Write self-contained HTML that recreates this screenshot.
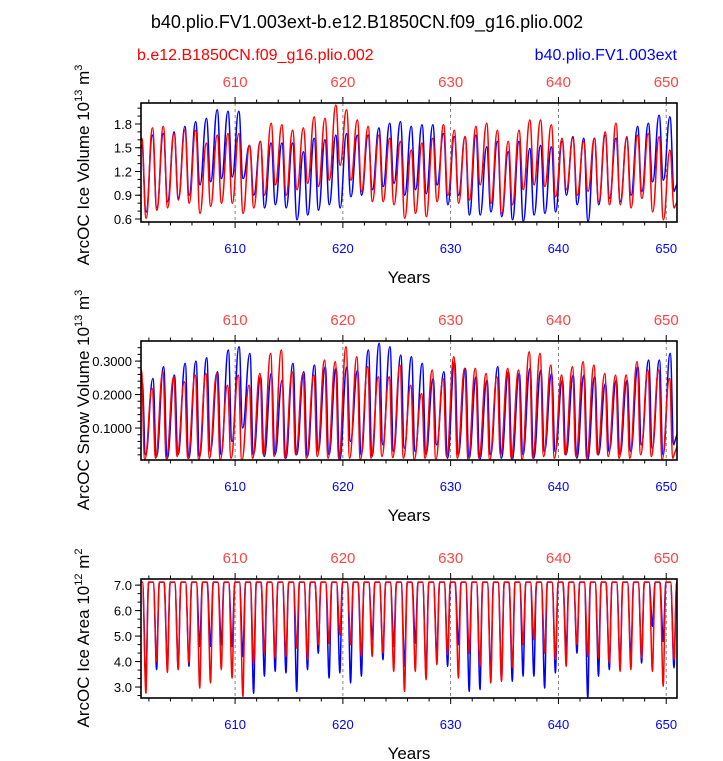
<!DOCTYPE html>
<html><head><meta charset="utf-8">
<style>
html,body{margin:0;padding:0;background:#fff;}
svg{display:block;font-family:"Liberation Sans",Arial,sans-serif;}
</style></head>
<body>
<svg id="chart" width="723" height="761" viewBox="0 0 723 761" xmlns="http://www.w3.org/2000/svg">
<text x="367" y="28" font-size="18" text-anchor="middle">b40.plio.FV1.003ext-b.e12.B1850CN.f09_g16.plio.002</text>
<text x="137" y="60" font-size="16" fill="#ff0000">b.e12.B1850CN.f09_g16.plio.002</text>
<text x="677" y="60" font-size="16" fill="#0000ff" text-anchor="end">b40.plio.FV1.003ext</text>
<g id="plots"></g>
</svg>
<script>
const years0 = 601;
const xTicks = [610, 620, 630, 640, 650];
// Panel 1: Ice Volume (10^13 m^3), annual peaks and troughs
const iceVolRedPeaks = [1.62,1.75,1.77,1.68,1.72,1.72,1.56,1.66,1.68,1.68,1.53,1.58,1.81,1.79,1.72,1.75,1.89,1.87,2.04,1.98,1.85,1.77,1.66,1.62,1.58,1.47,1.56,1.62,1.79,1.72,1.64,1.77,1.81,1.72,1.58,1.72,1.85,1.85,1.79,1.62,1.62,1.58,1.62,1.70,1.81,1.64,1.66,1.68,1.64,1.47];
const iceVolBluePeaks = [1.53,1.66,1.68,1.70,1.77,1.83,1.87,1.98,1.96,1.96,1.53,1.58,1.56,1.56,1.56,1.45,1.62,1.60,1.66,1.68,1.66,1.66,1.75,1.81,1.83,1.77,1.79,1.79,1.68,1.64,1.64,1.66,1.51,1.58,1.45,1.58,1.49,1.53,1.51,1.58,1.64,1.62,1.62,1.66,1.62,1.62,1.77,1.81,1.91,1.89];
const iceVolRedTroughs = [0.61,0.71,0.74,0.84,0.80,0.67,0.76,0.80,0.80,0.67,0.74,0.90,1.03,0.90,0.97,1.05,1.01,1.09,1.28,1.09,0.95,0.82,0.82,0.78,0.61,0.67,0.63,0.82,0.90,0.80,0.84,1.03,0.80,0.67,0.78,0.97,1.03,1.01,0.88,0.97,0.90,0.95,0.82,0.78,0.78,0.74,0.86,0.69,0.59,0.74];
const iceVolBlueTroughs = [0.69,0.74,0.82,0.86,0.90,1.03,1.07,1.11,1.13,1.11,0.90,0.74,0.78,0.74,0.59,0.65,0.71,0.78,0.74,0.88,0.90,0.97,1.01,1.05,0.90,0.97,0.92,1.03,0.78,0.90,0.65,0.65,0.69,0.63,0.59,0.57,0.65,0.67,0.69,0.90,0.78,0.57,0.78,0.86,0.82,0.90,0.95,1.07,1.09,0.95];
const iceVolTicks = [0.6, 0.9, 1.2, 1.5, 1.8];
const iceVolTickLabels = ["0.6","0.9","1.2","1.5","1.8"];
// Panel 2: Snow Volume
const snowRedPeaks = [0.273,0.218,0.268,0.253,0.238,0.258,0.263,0.263,0.228,0.258,0.228,0.263,0.323,0.333,0.268,0.263,0.258,0.303,0.298,0.343,0.313,0.283,0.253,0.253,0.288,0.228,0.203,0.273,0.248,0.313,0.278,0.278,0.263,0.253,0.278,0.273,0.328,0.323,0.288,0.258,0.283,0.298,0.288,0.263,0.258,0.258,0.298,0.273,0.273,0.248];
const snowBluePeaks = [0.238,0.248,0.283,0.258,0.293,0.300,0.310,0.268,0.333,0.343,0.323,0.253,0.263,0.243,0.293,0.268,0.288,0.283,0.278,0.283,0.273,0.333,0.353,0.343,0.318,0.313,0.293,0.248,0.268,0.298,0.278,0.253,0.243,0.283,0.268,0.263,0.278,0.273,0.263,0.243,0.258,0.258,0.253,0.233,0.243,0.243,0.283,0.303,0.303,0.323];
const snowRedTroughs = [0.005,0.01,0.008,0.015,0.01,0.005,0.01,0.005,0.01,0.003,0.01,0.02,0.015,0.01,0.02,0.01,0.015,0.01,0.008,0.01,0.005,0.01,0.015,0.012,0.01,0.005,0.01,0.005,0.015,0.01,0.003,0.01,0.005,0.02,0.01,0.005,0.01,0.015,0.01,0.02,0.015,0.01,0.02,0.015,0.01,0.01,0.02,0.015,0.005,0.01];
const snowBlueTroughs = [0.02,0.015,0.01,0.02,0.01,0.015,0.03,0.02,0.06,0.10,0.02,0.015,0.02,0.01,0.02,0.015,0.03,0.02,0.005,0.06,0.02,0.015,0.05,0.03,0.04,0.03,0.02,0.05,0.01,0.02,0.01,0.005,0.02,0.01,0.005,0.02,0.01,0.03,0.03,0.02,0.01,0.005,0.02,0.03,0.02,0.03,0.05,0.04,0.02,0.05];
const snowTicks = [0.1, 0.2, 0.3];
const snowTickLabels = ["0.1000","0.2000","0.3000"];
// Panel 3: Ice Area (10^12 m^2)
const areaRedPeaks = Array(50).fill(7.12);
const areaBluePeaks = Array(50).fill(7.12);
const areaRedTroughs = [2.76,4.01,3.57,3.68,3.94,2.96,3.16,3.68,3.35,2.63,3.88,4.33,4.14,4.20,4.53,4.07,4.66,4.72,5.05,4.66,4.20,4.20,4.33,3.61,2.83,3.61,3.29,3.88,4.27,3.35,4.33,3.81,3.16,3.22,3.75,4.66,4.86,4.33,4.07,3.81,4.66,4.20,4.14,3.94,3.61,3.68,4.14,3.61,3.03,4.07];
const areaBlueTroughs = [3.16,3.68,3.75,3.68,3.81,4.59,4.59,4.66,4.59,4.20,2.76,3.42,3.61,3.55,2.83,3.68,4.33,3.35,3.55,3.16,3.42,4.86,4.07,4.59,3.81,4.72,3.55,4.20,3.81,4.66,2.83,2.90,3.55,3.29,3.22,3.42,3.42,2.96,3.55,4.46,4.33,2.57,3.42,3.68,3.81,4.20,3.94,5.38,4.79,3.75];
const areaTicks = [3, 4, 5, 6, 7];
const areaTickLabels = ["3.0","4.0","5.0","6.0","7.0"];

const NS = "http://www.w3.org/2000/svg";
const X0 = 141, X1 = 677, YR0 = 601.27, YR1 = 651.0;
function xs(yr){ return X0 + (yr - YR0) / (YR1 - YR0) * (X1 - X0); }
function mk(tag, attrs, parent){ const e = document.createElementNS(NS, tag); for (const k in attrs) e.setAttribute(k, attrs[k]); parent.appendChild(e); return e; }
const root = document.getElementById('plots');

const panels = [
 {name:'ice-volume', top:103, bot:222, vmin:0.562, vmax:2.065, ticks:iceVolTicks, labels:iceVolTickLabels, minor:0.1, title:['ArcOC Ice Volume 10','13',' m','3'], tcy:165,
  red:[iceVolRedPeaks,iceVolRedTroughs,0.34,0.74], blue:[iceVolBluePeaks,iceVolBlueTroughs,0.34,0.74], mode:'smooth'},
 {name:'snow-volume', top:341, bot:460, vmin:0.0045, vmax:0.36, ticks:snowTicks, labels:snowTickLabels, minor:0.02, title:['ArcOC Snow Volume 10','13',' m','3'], tcy:400,
  red:[snowRedPeaks,snowRedTroughs,0.30,0.62], blue:[snowBluePeaks,snowBlueTroughs,0.37,0.70], mode:'smooth'},
 {name:'ice-area', top:579, bot:698, vmin:2.57, vmax:7.24, ticks:areaTicks, labels:areaTickLabels, minor:1/3, title:['ArcOC Ice Area 10','12',' m','2'], tcy:638,
  red:[areaRedPeaks,areaRedTroughs,0.40,0.72], blue:[areaBluePeaks,areaBlueTroughs,0.40,0.72], mode:'plateau'}
];

panels.forEach(p => {
  const g = mk('g', {}, root);
  
  
  const ys = v => p.bot - (v - p.vmin) / (p.vmax - p.vmin) * (p.bot - p.top);
  const cid = 'clip-' + p.name;
  const cp = mk('clipPath', {id: cid}, g);
  mk('rect', {x: X0, y: p.top, width: X1 - X0, height: p.bot - p.top}, cp);
  xTicks.forEach(t => {
    const l = mk('line', {x1: xs(t), x2: xs(t), y1: p.top, y2: p.bot, stroke: '#666', 'stroke-width': 0.8, 'stroke-dasharray': '3,3'}, g);
    
    
  });
  const lines = mk('g', {'clip-path': 'url(#' + cid + ')'}, g);
  [['blue', '#0000ff'], ['red', '#ff0000']].forEach(([nm, col]) => {
    const [pk, tr, fp, ft] = p[nm];
    const pts = [];
    for (let i = 0; i < pk.length; i++) {
      const y = years0 + i;
      if (p.mode === 'plateau') {
        pts.push([xs(y - 0.02), ys(pk[i]), 'p']);
        pts.push([xs(y + fp), ys(pk[i]), 'p']);
      } else {
        pts.push([xs(y + fp), ys(pk[i]), 'p']);
      }
      pts.push([xs(y + ft), ys(tr[i]), 't']);
    }
    if (p.mode === 'plateau') pts.push([xs(years0 + pk.length - 0.02), ys(pk[pk.length - 1]), 'p']);
    let d = 'M' + (pts[0][0] - 12).toFixed(1) + ',' + ((pts[0][1] + pts[1][1]) / 2).toFixed(1) + ' L' + pts[0][0].toFixed(1) + ',' + pts[0][1].toFixed(1);
    for (let i = 1; i < pts.length; i++) {
      const [x0, y0, k0] = pts[i - 1], [x1, y1, k1] = pts[i];
      const dx = x1 - x0;
      if (p.mode === 'plateau') {
        if (k0 === 'p' && k1 === 'p') d += ' L' + x1.toFixed(1) + ',' + y1.toFixed(1);
        else if (k0 === 'p') d += ' C' + (x0 + dx * 0.4).toFixed(1) + ',' + y0.toFixed(1) + ' ' + (x1 - dx * 0.3).toFixed(1) + ',' + y1.toFixed(1) + ' ' + x1.toFixed(1) + ',' + y1.toFixed(1);
        else d += ' C' + (x0 + dx * 0.3).toFixed(1) + ',' + y0.toFixed(1) + ' ' + (x1 - dx * 0.4).toFixed(1) + ',' + y1.toFixed(1) + ' ' + x1.toFixed(1) + ',' + y1.toFixed(1);
      } else {
        d += ' C' + (x0 + dx * 0.45).toFixed(1) + ',' + y0.toFixed(1) + ' ' + (x1 - dx * 0.45).toFixed(1) + ',' + y1.toFixed(1) + ' ' + x1.toFixed(1) + ',' + y1.toFixed(1);
      }
    }
    const last = pts[pts.length - 1];
    d += ' L' + (last[0] + 14).toFixed(1) + ',' + ((last[1] + pts[pts.length - 2][1]) / 2).toFixed(1);
    const path = mk('path', {d: d, fill: 'none', stroke: col, 'stroke-width': 1.5, 'stroke-linejoin': 'round'}, lines);
    
    
  });
  const fr = mk('rect', {x: X0, y: p.top, width: X1 - X0, height: p.bot - p.top, fill: 'none', stroke: '#000', 'stroke-width': 1.6}, g);
  
  
  for (let yr = 602; yr <= 650; yr += 2) {
    const maj = yr % 10 === 0, len = maj ? 6 : 3.5;
    mk('line', {x1: xs(yr), x2: xs(yr), y1: p.bot, y2: p.bot + len, stroke: '#000', 'stroke-width': 1}, g);
    mk('line', {x1: xs(yr), x2: xs(yr), y1: p.top, y2: p.top - len, stroke: '#000', 'stroke-width': 1}, g);
  }
  xTicks.forEach(t => {
    const b = mk('text', {x: xs(t), y: p.bot + 31, 'font-size': 13, fill: '#0000ff', 'text-anchor': 'middle'}, g);
    b.textContent = String(t);
    
    
    const tt = mk('text', {x: xs(t), y: p.top - 16, 'font-size': 15, fill: '#ff4444', 'text-anchor': 'middle'}, g);
    tt.textContent = String(t);
    
    
  });
  const yt = mk('text', {x: (X0 + X1) / 2, y: p.bot + 61, 'font-size': 17, 'text-anchor': 'middle'}, g);
  yt.textContent = 'Years';
  
  
  for (let v = Math.ceil(p.vmin / p.minor) * p.minor; v <= p.vmax; v += p.minor) {
    mk('line', {x1: X0, x2: X0 - 3.5, y1: ys(v), y2: ys(v), stroke: '#000', 'stroke-width': 1}, g);
  }
  p.ticks.forEach((v, i) => {
    mk('line', {x1: X0, x2: X0 - 6, y1: ys(v), y2: ys(v), stroke: '#000', 'stroke-width': 1}, g);
    const lt = mk('text', {x: X0 - 9, y: ys(v) + 5, 'font-size': 13, 'text-anchor': 'end'}, g);
    lt.textContent = p.labels[i];
    
    
  });
  const tx = mk('text', {x: 0, y: 0, 'font-size': 17, 'text-anchor': 'middle', transform: 'translate(89,' + p.tcy + ') rotate(-90)'}, g);
  
  
  const parts = p.title;
  const s1 = mk('tspan', {}, tx); s1.textContent = parts[0];
  const s2 = mk('tspan', {dy: -7, 'font-size': 11}, tx); s2.textContent = parts[1];
  const s3 = mk('tspan', {dy: 7}, tx); s3.textContent = parts[2];
  const s4 = mk('tspan', {dy: -7, 'font-size': 11}, tx); s4.textContent = parts[3];
});
</script>
</body></html>
